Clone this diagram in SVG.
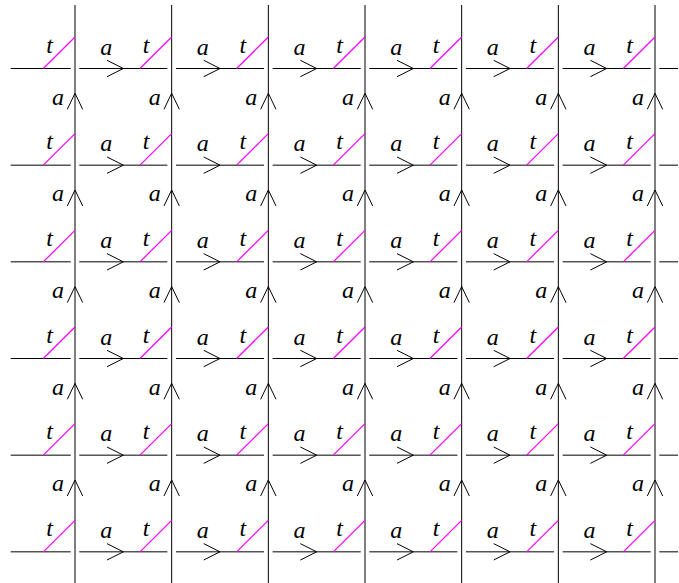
<svg xmlns="http://www.w3.org/2000/svg" xmlns:xlink="http://www.w3.org/1999/xlink" width="679" height="583" viewBox="0 0 679 583">
<style>
.ln{fill:none;stroke:#000;stroke-width:1}
.mg{fill:none;stroke:#ff00ff;stroke-width:1.25}
text{font-family:"Liberation Serif","Times New Roman",serif;font-style:italic;font-size:24px;fill:#000;text-anchor:middle}
</style>
<defs>
<path id="ah" class="ln" d="M-16.3,-8.2 L0,0 L-16.3,8.2"/>
<path id="av" class="ln" d="M-7.7,16 L0,0 L7.7,16"/>
<path id="tl" class="mg" d="M-31.7,0 L0,-31.5"/>
</defs>
<rect width="679" height="583" fill="#fff"/>
<g id="connectors">
<path class="ln" d="M75,5V583M171.67,5V583M268.33,5V583M365,5V583M461.67,5V583M558.33,5V583M655,5V583"/>
<path class="ln" d="M10.7,68.5H70.7M79.3,68.5H167.37M175.97,68.5H264.03M272.63,68.5H360.7M369.3,68.5H457.37M465.97,68.5H554.03M562.63,68.5H650.7M659.3,68.5H678"/>
<path class="ln" d="M10.7,165.17H70.7M79.3,165.17H167.37M175.97,165.17H264.03M272.63,165.17H360.7M369.3,165.17H457.37M465.97,165.17H554.03M562.63,165.17H650.7M659.3,165.17H678"/>
<path class="ln" d="M10.7,261.83H70.7M79.3,261.83H167.37M175.97,261.83H264.03M272.63,261.83H360.7M369.3,261.83H457.37M465.97,261.83H554.03M562.63,261.83H650.7M659.3,261.83H678"/>
<path class="ln" d="M10.7,358.5H70.7M79.3,358.5H167.37M175.97,358.5H264.03M272.63,358.5H360.7M369.3,358.5H457.37M465.97,358.5H554.03M562.63,358.5H650.7M659.3,358.5H678"/>
<path class="ln" d="M10.7,455.17H70.7M79.3,455.17H167.37M175.97,455.17H264.03M272.63,455.17H360.7M369.3,455.17H457.37M465.97,455.17H554.03M562.63,455.17H650.7M659.3,455.17H678"/>
<path class="ln" d="M10.7,551.83H70.7M79.3,551.83H167.37M175.97,551.83H264.03M272.63,551.83H360.7M369.3,551.83H457.37M465.97,551.83H554.03M562.63,551.83H650.7M659.3,551.83H678"/>
<g id="h-arrows">
<use href="#ah" x="123.33" y="68.5"/><use href="#ah" x="220" y="68.5"/><use href="#ah" x="316.67" y="68.5"/><use href="#ah" x="413.33" y="68.5"/><use href="#ah" x="510" y="68.5"/><use href="#ah" x="606.67" y="68.5"/>
<use href="#ah" x="123.33" y="165.17"/><use href="#ah" x="220" y="165.17"/><use href="#ah" x="316.67" y="165.17"/><use href="#ah" x="413.33" y="165.17"/><use href="#ah" x="510" y="165.17"/><use href="#ah" x="606.67" y="165.17"/>
<use href="#ah" x="123.33" y="261.83"/><use href="#ah" x="220" y="261.83"/><use href="#ah" x="316.67" y="261.83"/><use href="#ah" x="413.33" y="261.83"/><use href="#ah" x="510" y="261.83"/><use href="#ah" x="606.67" y="261.83"/>
<use href="#ah" x="123.33" y="358.5"/><use href="#ah" x="220" y="358.5"/><use href="#ah" x="316.67" y="358.5"/><use href="#ah" x="413.33" y="358.5"/><use href="#ah" x="510" y="358.5"/><use href="#ah" x="606.67" y="358.5"/>
<use href="#ah" x="123.33" y="455.17"/><use href="#ah" x="220" y="455.17"/><use href="#ah" x="316.67" y="455.17"/><use href="#ah" x="413.33" y="455.17"/><use href="#ah" x="510" y="455.17"/><use href="#ah" x="606.67" y="455.17"/>
<use href="#ah" x="123.33" y="551.83"/><use href="#ah" x="220" y="551.83"/><use href="#ah" x="316.67" y="551.83"/><use href="#ah" x="413.33" y="551.83"/><use href="#ah" x="510" y="551.83"/><use href="#ah" x="606.67" y="551.83"/>
</g>
<g id="v-arrows">
<use href="#av" x="75" y="93.3"/><use href="#av" x="171.67" y="93.3"/><use href="#av" x="268.33" y="93.3"/><use href="#av" x="365" y="93.3"/><use href="#av" x="461.67" y="93.3"/><use href="#av" x="558.33" y="93.3"/><use href="#av" x="655" y="93.3"/>
<use href="#av" x="75" y="189.97"/><use href="#av" x="171.67" y="189.97"/><use href="#av" x="268.33" y="189.97"/><use href="#av" x="365" y="189.97"/><use href="#av" x="461.67" y="189.97"/><use href="#av" x="558.33" y="189.97"/><use href="#av" x="655" y="189.97"/>
<use href="#av" x="75" y="286.63"/><use href="#av" x="171.67" y="286.63"/><use href="#av" x="268.33" y="286.63"/><use href="#av" x="365" y="286.63"/><use href="#av" x="461.67" y="286.63"/><use href="#av" x="558.33" y="286.63"/><use href="#av" x="655" y="286.63"/>
<use href="#av" x="75" y="383.3"/><use href="#av" x="171.67" y="383.3"/><use href="#av" x="268.33" y="383.3"/><use href="#av" x="365" y="383.3"/><use href="#av" x="461.67" y="383.3"/><use href="#av" x="558.33" y="383.3"/><use href="#av" x="655" y="383.3"/>
<use href="#av" x="75" y="479.97"/><use href="#av" x="171.67" y="479.97"/><use href="#av" x="268.33" y="479.97"/><use href="#av" x="365" y="479.97"/><use href="#av" x="461.67" y="479.97"/><use href="#av" x="558.33" y="479.97"/><use href="#av" x="655" y="479.97"/>
</g>
</g>
<g id="t-edges">
<use href="#tl" x="75" y="68.5"/><use href="#tl" x="171.67" y="68.5"/><use href="#tl" x="268.33" y="68.5"/><use href="#tl" x="365" y="68.5"/><use href="#tl" x="461.67" y="68.5"/><use href="#tl" x="558.33" y="68.5"/><use href="#tl" x="655" y="68.5"/>
<use href="#tl" x="75" y="165.17"/><use href="#tl" x="171.67" y="165.17"/><use href="#tl" x="268.33" y="165.17"/><use href="#tl" x="365" y="165.17"/><use href="#tl" x="461.67" y="165.17"/><use href="#tl" x="558.33" y="165.17"/><use href="#tl" x="655" y="165.17"/>
<use href="#tl" x="75" y="261.83"/><use href="#tl" x="171.67" y="261.83"/><use href="#tl" x="268.33" y="261.83"/><use href="#tl" x="365" y="261.83"/><use href="#tl" x="461.67" y="261.83"/><use href="#tl" x="558.33" y="261.83"/><use href="#tl" x="655" y="261.83"/>
<use href="#tl" x="75" y="358.5"/><use href="#tl" x="171.67" y="358.5"/><use href="#tl" x="268.33" y="358.5"/><use href="#tl" x="365" y="358.5"/><use href="#tl" x="461.67" y="358.5"/><use href="#tl" x="558.33" y="358.5"/><use href="#tl" x="655" y="358.5"/>
<use href="#tl" x="75" y="455.17"/><use href="#tl" x="171.67" y="455.17"/><use href="#tl" x="268.33" y="455.17"/><use href="#tl" x="365" y="455.17"/><use href="#tl" x="461.67" y="455.17"/><use href="#tl" x="558.33" y="455.17"/><use href="#tl" x="655" y="455.17"/>
<use href="#tl" x="75" y="551.83"/><use href="#tl" x="171.67" y="551.83"/><use href="#tl" x="268.33" y="551.83"/><use href="#tl" x="365" y="551.83"/><use href="#tl" x="461.67" y="551.83"/><use href="#tl" x="558.33" y="551.83"/><use href="#tl" x="655" y="551.83"/>
</g>
<g id="row-0">
<text x="49.5" y="52.5">t</text><text x="146.17" y="52.5">t</text><text x="242.83" y="52.5">t</text><text x="339.5" y="52.5">t</text><text x="436.17" y="52.5">t</text><text x="532.83" y="52.5">t</text><text x="629.5" y="52.5">t</text>
<text x="106.2" y="54.5">a</text><text x="202.87" y="54.5">a</text><text x="299.53" y="54.5">a</text><text x="396.2" y="54.5">a</text><text x="492.87" y="54.5">a</text><text x="589.53" y="54.5">a</text>
<text x="58" y="104.5">a</text><text x="154.67" y="104.5">a</text><text x="251.33" y="104.5">a</text><text x="348" y="104.5">a</text><text x="444.67" y="104.5">a</text><text x="541.33" y="104.5">a</text><text x="638" y="104.5">a</text>
</g>
<g id="row-1">
<text x="49.5" y="149.17">t</text><text x="146.17" y="149.17">t</text><text x="242.83" y="149.17">t</text><text x="339.5" y="149.17">t</text><text x="436.17" y="149.17">t</text><text x="532.83" y="149.17">t</text><text x="629.5" y="149.17">t</text>
<text x="106.2" y="151.17">a</text><text x="202.87" y="151.17">a</text><text x="299.53" y="151.17">a</text><text x="396.2" y="151.17">a</text><text x="492.87" y="151.17">a</text><text x="589.53" y="151.17">a</text>
<text x="58" y="201.17">a</text><text x="154.67" y="201.17">a</text><text x="251.33" y="201.17">a</text><text x="348" y="201.17">a</text><text x="444.67" y="201.17">a</text><text x="541.33" y="201.17">a</text><text x="638" y="201.17">a</text>
</g>
<g id="row-2">
<text x="49.5" y="245.83">t</text><text x="146.17" y="245.83">t</text><text x="242.83" y="245.83">t</text><text x="339.5" y="245.83">t</text><text x="436.17" y="245.83">t</text><text x="532.83" y="245.83">t</text><text x="629.5" y="245.83">t</text>
<text x="106.2" y="247.83">a</text><text x="202.87" y="247.83">a</text><text x="299.53" y="247.83">a</text><text x="396.2" y="247.83">a</text><text x="492.87" y="247.83">a</text><text x="589.53" y="247.83">a</text>
<text x="58" y="297.83">a</text><text x="154.67" y="297.83">a</text><text x="251.33" y="297.83">a</text><text x="348" y="297.83">a</text><text x="444.67" y="297.83">a</text><text x="541.33" y="297.83">a</text><text x="638" y="297.83">a</text>
</g>
<g id="row-3">
<text x="49.5" y="342.5">t</text><text x="146.17" y="342.5">t</text><text x="242.83" y="342.5">t</text><text x="339.5" y="342.5">t</text><text x="436.17" y="342.5">t</text><text x="532.83" y="342.5">t</text><text x="629.5" y="342.5">t</text>
<text x="106.2" y="344.5">a</text><text x="202.87" y="344.5">a</text><text x="299.53" y="344.5">a</text><text x="396.2" y="344.5">a</text><text x="492.87" y="344.5">a</text><text x="589.53" y="344.5">a</text>
<text x="58" y="394.5">a</text><text x="154.67" y="394.5">a</text><text x="251.33" y="394.5">a</text><text x="348" y="394.5">a</text><text x="444.67" y="394.5">a</text><text x="541.33" y="394.5">a</text><text x="638" y="394.5">a</text>
</g>
<g id="row-4">
<text x="49.5" y="439.17">t</text><text x="146.17" y="439.17">t</text><text x="242.83" y="439.17">t</text><text x="339.5" y="439.17">t</text><text x="436.17" y="439.17">t</text><text x="532.83" y="439.17">t</text><text x="629.5" y="439.17">t</text>
<text x="106.2" y="441.17">a</text><text x="202.87" y="441.17">a</text><text x="299.53" y="441.17">a</text><text x="396.2" y="441.17">a</text><text x="492.87" y="441.17">a</text><text x="589.53" y="441.17">a</text>
<text x="58" y="491.17">a</text><text x="154.67" y="491.17">a</text><text x="251.33" y="491.17">a</text><text x="348" y="491.17">a</text><text x="444.67" y="491.17">a</text><text x="541.33" y="491.17">a</text><text x="638" y="491.17">a</text>
</g>
<g id="row-5">
<text x="49.5" y="535.83">t</text><text x="146.17" y="535.83">t</text><text x="242.83" y="535.83">t</text><text x="339.5" y="535.83">t</text><text x="436.17" y="535.83">t</text><text x="532.83" y="535.83">t</text><text x="629.5" y="535.83">t</text>
<text x="106.2" y="537.83">a</text><text x="202.87" y="537.83">a</text><text x="299.53" y="537.83">a</text><text x="396.2" y="537.83">a</text><text x="492.87" y="537.83">a</text><text x="589.53" y="537.83">a</text>
</g>
</svg>
